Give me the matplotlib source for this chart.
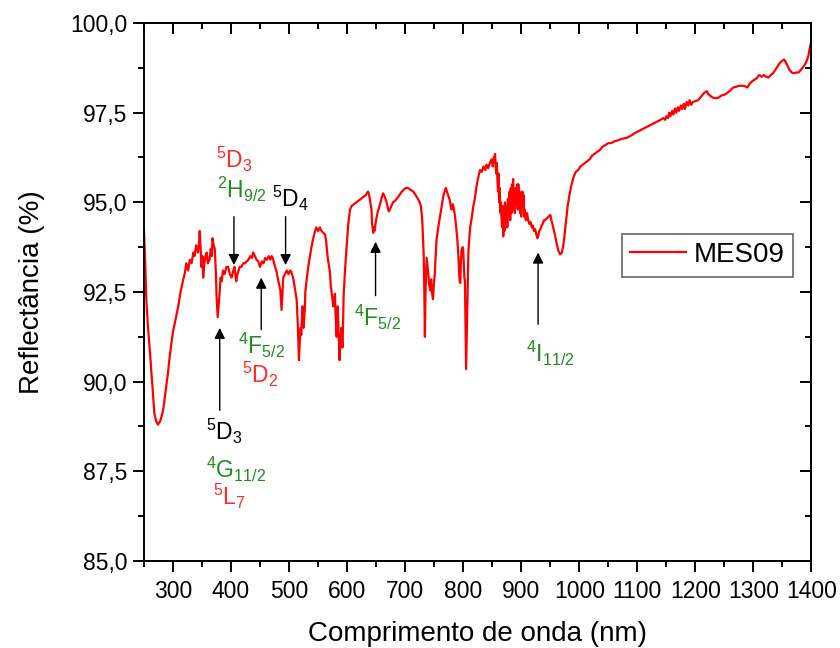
import matplotlib
matplotlib.use('Agg')
import matplotlib.pyplot as plt
from matplotlib.ticker import MultipleLocator, FuncFormatter

plt.rcParams['font.family'] = ['Liberation Sans', 'DejaVu Sans']
plt.rcParams['mathtext.fontset'] = 'custom'
plt.rcParams['mathtext.rm'] = 'Liberation Sans'
plt.rcParams['mathtext.it'] = 'Liberation Sans:italic'
plt.rcParams['mathtext.default'] = 'regular'

# reflectance spectrum of sample MES09
wavelength = [
    250, 252, 254, 257, 260, 264, 268, 271, 274, 278, 283, 287, 291, 295, 300,
    304, 309, 313, 317, 320, 323, 326, 329, 332, 335, 337, 340, 343, 345, 346,
    348, 349, 351, 352, 354, 356, 358, 360, 363, 365, 367, 368, 370, 372, 374,
    375, 377, 378, 380, 382, 384, 386, 389, 392, 395, 398, 401, 404, 406, 408,
    409, 411, 413, 415, 418, 421, 424, 427, 430, 433, 436, 438, 441, 444, 447,
    450, 453, 456, 459, 462, 465, 468, 470, 472, 475, 478, 481, 483, 485, 487,
    488, 490, 493, 496, 499, 502, 504, 507, 510, 513, 515, 517, 518, 520, 521,
    523, 524, 525, 527, 528, 530, 533, 536, 538, 541, 544, 547, 550, 553, 556,
    559, 562, 564, 565, 567, 570, 571, 572, 574, 576, 578, 579, 580, 582, 583,
    584, 585, 587, 588, 590, 591, 592, 593, 594, 596, 598, 600, 602, 605, 608,
    612, 616, 620, 624, 628, 632, 636, 638, 640, 642, 643, 645, 646, 647, 648,
    650, 651, 653, 656, 659, 662, 665, 668, 670, 672, 675, 679, 683, 688, 692,
    697, 701, 705, 709, 714, 718, 722, 725, 727, 729, 730, 731, 732, 733, 734,
    735, 736, 737, 738, 740, 741, 743, 744, 745, 746, 748, 749, 751, 754, 757,
    760, 763, 766, 768, 770, 772, 774, 777, 779, 780, 782, 783, 785, 786, 788,
    790, 792, 793, 794, 795, 796, 797, 799, 800, 801, 802, 803, 804, 805, 806,
    807, 808, 809, 811, 812, 815, 817, 820, 823, 826, 829, 832, 835, 838, 840,
    843, 846, 849, 851, 853, 855, 856, 857, 858, 859, 860, 861, 862, 863, 864,
    865, 866, 867, 868, 869, 870, 871, 872, 873, 875, 876, 877, 878, 880, 881,
    882, 883, 884, 885, 886, 887, 888, 889, 890, 891, 893, 894, 895, 896, 897,
    898, 899, 900, 902, 903, 904, 905, 906, 908, 910, 912, 914, 916, 918, 920,
    922, 924, 926, 928, 929, 931, 933, 935, 937, 939, 941, 944, 947, 950, 952,
    955, 958, 961, 964, 967, 970, 972, 974, 976, 978, 980, 983, 986, 990, 994,
    998, 1002, 1006, 1010, 1014, 1018, 1022, 1026, 1030, 1035, 1040, 1045, 1050,
    1055, 1060, 1065, 1070, 1076, 1082, 1088, 1093, 1098, 1104, 1110, 1116, 1122,
    1128, 1134, 1140, 1145, 1148, 1150, 1153, 1155, 1157, 1160, 1162, 1165, 1167,
    1170, 1172, 1175, 1177, 1180, 1182, 1185, 1188, 1190, 1193, 1196, 1200, 1205,
    1210, 1215, 1220, 1222, 1225, 1230, 1235, 1240, 1245, 1250, 1255, 1260, 1265,
    1270, 1275, 1280, 1285, 1290, 1293, 1296, 1300, 1305, 1310, 1314, 1318, 1322,
    1326, 1330, 1334, 1338, 1342, 1346, 1350, 1353, 1356, 1359, 1362, 1366, 1370,
    1374, 1378, 1382, 1386, 1389, 1392, 1395, 1397, 1399, 1400,
]
reflectance = [
    94.2, 93.4, 92.3, 91.5, 90.9, 90.0, 89.1, 88.9, 88.8, 88.9, 89.2, 89.7, 90.2, 90.8, 91.4,
    91.7, 92.1, 92.5, 92.8, 93.0, 93.3, 93.1, 93.4, 93.3, 93.6, 93.5, 93.8, 93.6, 93.9, 94.2,
    93.6, 93.2, 93.5, 92.9, 93.3, 93.5, 93.6, 93.3, 93.4, 93.7, 93.5, 94.0, 93.8, 93.7, 93.0,
    92.4, 91.8, 92.0, 92.4, 92.9, 92.8, 93.1, 93.0, 93.2, 93.2, 93.0, 92.9, 93.1, 93.2, 92.9,
    92.8, 93.0, 93.1, 93.2, 93.2, 93.3, 93.3, 93.35, 93.4, 93.5, 93.45, 93.6, 93.5, 93.4, 93.35,
    93.2, 93.35, 93.3, 93.45, 93.4, 93.5, 93.4, 93.5, 93.45, 93.25, 93.1, 92.85, 92.7, 92.55, 92.0,
    92.3, 92.9, 93.0, 93.1, 93.0, 93.1, 93.05, 92.9, 92.6, 92.3, 91.6, 90.6, 91.0, 91.5, 91.3,
    92.1, 91.9, 91.5, 92.0, 92.5, 92.8, 93.2, 93.5, 93.7, 93.95, 94.15, 94.3, 94.2, 94.3, 94.2,
    94.15, 94.1, 93.9, 93.7, 93.4, 93.1, 92.9, 92.65, 92.4, 92.1, 92.3, 92.45, 91.9, 91.25, 91.8,
    92.1, 91.5, 90.6, 91.0, 91.5, 91.2, 90.95, 91.6, 92.4, 93.0, 93.5, 93.95, 94.4, 94.8, 94.9,
    94.95, 95.0, 95.05, 95.1, 95.15, 95.2, 95.3, 95.2, 95.0, 94.8, 94.4, 94.15, 94.3, 94.2, 94.3,
    94.5, 94.6, 94.75, 94.9, 95.1, 95.25, 95.15, 95.0, 94.85, 94.75, 94.85, 95.0, 95.05, 95.15, 95.25,
    95.35, 95.4, 95.4, 95.35, 95.3, 95.2, 95.1, 95.0, 94.9, 94.6, 94.3, 93.9, 93.5, 92.5, 91.25,
    92.4, 93.0, 93.45, 93.3, 93.0, 92.75, 92.55, 92.8, 92.85, 92.5, 92.3, 92.6, 93.0, 93.95, 94.3,
    94.6, 94.9, 95.2, 95.3, 95.4, 95.3, 95.2, 95.05, 94.85, 94.8, 94.95, 94.9, 94.7, 94.6, 94.3,
    93.95, 93.4, 93.0, 92.8, 92.75, 93.3, 93.65, 93.75, 93.7, 93.3, 92.9, 92.8, 91.5, 90.35, 91.2,
    92.1, 93.0, 93.65, 94.1, 94.3, 94.6, 94.85, 95.1, 95.45, 95.7, 95.9, 95.85, 96.0, 95.9, 96.05,
    95.95, 96.1, 96.2, 96.0, 96.25, 96.35, 96.0, 95.8, 96.1, 95.6, 95.3, 95.8, 95.0, 95.4, 94.7,
    95.0, 94.6, 94.3, 94.9, 94.05, 94.6, 94.2, 95.0, 94.4, 94.9, 94.3, 95.1, 94.6, 95.3, 94.5,
    95.4, 94.7, 95.5, 94.9, 95.65, 94.8, 95.2, 94.7, 95.4, 94.9, 95.5, 94.8, 95.5, 95.0, 95.3,
    94.7, 95.0, 94.6, 95.3, 94.9, 95.2, 94.6, 94.8, 94.5, 94.7, 94.5, 94.4, 94.45, 94.3, 94.35,
    94.2, 94.25, 94.1, 94.0, 94.05, 94.2, 94.25, 94.35, 94.4, 94.5, 94.5, 94.55, 94.6, 94.65, 94.5,
    94.3, 94.1, 93.85, 93.65, 93.55, 93.6, 93.75, 94.0, 94.3, 94.6, 94.9, 95.2, 95.45, 95.7, 95.85,
    95.9, 96.0, 96.05, 96.1, 96.15, 96.2, 96.3, 96.35, 96.4, 96.45, 96.55, 96.6, 96.65,
    96.65, 96.7, 96.72, 96.75, 96.78, 96.8, 96.85, 96.9, 96.95, 97.0, 97.05, 97.1, 97.15,
    97.2, 97.25, 97.3, 97.35, 97.3, 97.4, 97.35, 97.5, 97.4, 97.55, 97.45, 97.62, 97.5,
    97.65, 97.55, 97.7, 97.6, 97.75, 97.6, 97.8, 97.7, 97.85, 97.72, 97.8, 97.82, 97.85,
    97.95, 98.05, 98.1, 98.02, 97.98, 97.92, 97.9, 97.92, 97.98, 98.0, 98.05, 98.12, 98.2,
    98.22, 98.25, 98.25, 98.24, 98.2, 98.3, 98.35, 98.4, 98.45, 98.55, 98.5, 98.55, 98.5,
    98.48, 98.55, 98.6, 98.7, 98.8, 98.9, 98.95, 98.98, 98.9, 98.8, 98.7, 98.62, 98.6,
    98.62, 98.62, 98.7, 98.78, 98.85, 98.95, 99.1, 99.3, 99.45, 99.45,
]

# transition labels: (text, x, y, colour)
RED = '#ff2a2a'
GREEN = '#1e8c1e'
labels = [
    (r'$^{5}$D$_{3}$', 389, 88.6, 'black'),
    (r'$^{4}$G$_{11/2}$', 409, 87.55, GREEN),
    (r'$^{5}$L$_{7}$', 398, 86.8, RED),
    (r'$^{5}$D$_{3}$', 406, 96.2, RED),
    (r'$^{2}$H$_{9/2}$', 418, 95.35, GREEN),
    (r'$^{5}$D$_{4}$', 503, 95.1, 'black'),
    (r'$^{4}$F$_{5/2}$', 452, 91.0, GREEN),
    (r'$^{5}$D$_{2}$', 450, 90.2, RED),
    (r'$^{4}$F$_{5/2}$', 652, 91.8, GREEN),
    (r'$^{4}$I$_{11/2}$', 950, 90.8, GREEN),
]
# arrows: (x, y_tail, y_head)
arrows = [
    (380.5, 89.2, 91.5),
    (405, 94.6, 93.25),
    (494, 94.6, 93.25),
    (452, 91.45, 92.9),
    (649, 92.4, 93.9),
    (929, 91.6, 93.6),
]

fig = plt.figure(figsize=(8.4, 6.48), dpi=100)
ax = fig.add_axes([0.1714, 0.1343, 0.7946, 0.8302])

ax.plot(wavelength, reflectance, color='#ff0000', lw=1.6, label='MES09')

for txt, x, y, c in labels:
    ax.text(x, y, txt, color=c, fontsize=16.5, ha='center', va='center')

for x, y0, y1 in arrows:
    ax.annotate('', xy=(x, y1), xytext=(x, y0),
                arrowprops=dict(arrowstyle='-|>', color='black', lw=1.0,
                                mutation_scale=16, shrinkA=0, shrinkB=0))

ax.set_xlim(250, 1400)
ax.set_ylim(85, 100)
ax.xaxis.set_major_locator(MultipleLocator(100))
ax.xaxis.set_minor_locator(MultipleLocator(50))
ax.yaxis.set_major_locator(MultipleLocator(2.5))
ax.yaxis.set_minor_locator(MultipleLocator(1.25))
ax.yaxis.set_major_formatter(FuncFormatter(lambda v, p: f'{v:.1f}'.replace('.', ',')))
ax.tick_params(which='major', direction='out', length=8, width=1.4, labelsize=16.5, pad=4)
ax.tick_params(which='minor', direction='out', length=4, width=1.4)
ax.tick_params(axis='x', pad=6)

# mirrored ticks pointing inward on top and right
top = ax.secondary_xaxis('top')
top.xaxis.set_major_locator(MultipleLocator(100))
top.xaxis.set_minor_locator(MultipleLocator(50))
top.tick_params(which='major', direction='in', length=8, width=1.4, labeltop=False)
top.tick_params(which='minor', direction='in', length=4, width=1.4)
right = ax.secondary_yaxis('right')
right.yaxis.set_major_locator(MultipleLocator(2.5))
right.yaxis.set_minor_locator(MultipleLocator(1.25))
right.tick_params(which='major', direction='in', length=8, width=1.4, labelright=False)
right.tick_params(which='minor', direction='in', length=4, width=1.4)

for s in list(ax.spines.values()) + [top.spines['top'], right.spines['right']]:
    s.set_linewidth(1.4)

ax.set_xlabel('Comprimento de onda (nm)', fontsize=20, labelpad=13)
ax.set_ylabel('Reflectância (%)', fontsize=20, labelpad=18)

leg = ax.legend(loc='upper left', bbox_to_anchor=(0.716, 0.608), fontsize=20,
                frameon=True, fancybox=False, handlelength=2.0, borderpad=0.3,
                handletextpad=0.3, borderaxespad=0)
leg.get_frame().set_edgecolor('#404040')
leg.get_frame().set_linewidth(1.2)

fig.savefig('out.png', dpi=100)
